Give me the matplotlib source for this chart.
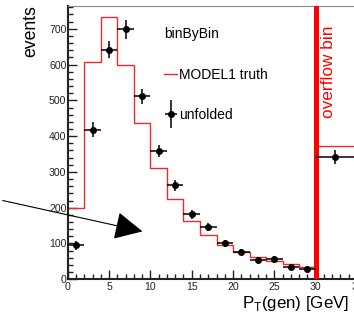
import numpy as np
import matplotlib
matplotlib.use("Agg")
import matplotlib.pyplot as plt
from matplotlib.lines import Line2D
from matplotlib.patches import FancyArrowPatch
from matplotlib.container import ErrorbarContainer
from matplotlib.legend_handler import HandlerErrorbar
from matplotlib.ticker import MultipleLocator

plt.rcParams["font.family"] = ["Liberation Sans", "DejaVu Sans"]
plt.rcParams["mathtext.fontset"] = "custom"
plt.rcParams["mathtext.rm"] = "Liberation Sans"

# -----------------------------
# DATA
# -----------------------------
bin_edges = [0, 2, 4, 6, 8, 10, 12, 14, 16, 18, 20, 22, 24, 26, 28, 30, 35]
truth = [200, 607, 732, 600, 438, 310, 223, 163, 123, 96, 77, 63, 52, 43, 35, 372]

unf_x = [1, 3, 5, 7, 9, 11, 13, 15, 17, 19, 21, 23, 25, 27, 29, 32.3]
unf_y = [95, 418, 642, 698, 511, 358, 263, 182, 147, 101, 76, 55, 56, 35, 28, 342]
unf_xlo = [1] * 15 + [2.3]
unf_xhi = [1] * 15 + [2.7]
unf_yerr = [12, 21, 25, 26, 21, 17, 15, 13, 11, 10, 9, 8, 8, 7, 6, 20]

overflow_at = 30

# -----------------------------
# PLOT
# -----------------------------
fig = plt.figure(figsize=(3.54, 3.24), dpi=100)
ax = fig.add_axes([0.1915, 0.138, 0.817, 0.845])

ax.stairs(truth, bin_edges, baseline=None, color="#ee2a2a", lw=1.0, zorder=2)
ax.axvline(overflow_at, color="#ff0000", lw=3.6, zorder=3)
eb = ax.errorbar(unf_x, unf_y, xerr=[unf_xlo, unf_xhi], yerr=unf_yerr,
                 fmt="o", color="black", ms=4, lw=1.1, capsize=0, zorder=4)

ax.text(31.5, 580, "overflow bin", rotation=90, color="#ff0000",
        fontsize=12.4, ha="center", va="center")

ax.set_xlim(0, 35)
ax.set_ylim(0, 765)
ax.xaxis.set_major_locator(MultipleLocator(5))
ax.xaxis.set_minor_locator(MultipleLocator(1))
ax.yaxis.set_major_locator(MultipleLocator(100))
ax.yaxis.set_minor_locator(MultipleLocator(20))
ax.tick_params(which="both", direction="in", colors="#222222", labelsize=7.6)
ax.tick_params(which="major", length=6.5, width=1.0)
ax.tick_params(which="minor", length=3.5, width=1.0)
ax.tick_params(axis="y", pad=1)
ax.tick_params(axis="x", pad=2)

for side in ["left", "bottom"]:
    ax.spines[side].set_linewidth(1.5)
    ax.spines[side].set_color("#222222")
ax.spines["top"].set_linewidth(0.8)
ax.spines["top"].set_color("#888888")
ax.spines["right"].set_visible(False)

ax.set_ylabel("events", fontsize=12.7, loc="top")
ax.yaxis.set_label_coords(-0.098, 1.0)
ax.set_xlabel(r"P$_{\mathrm{T}}$(gen) [GeV]", fontsize=12.2, loc="right")
ax.xaxis.set_label_coords(0.972, -0.055)

handles = [Line2D([], [], color="#ee2a2a", lw=1.0), eb]
leg = ax.legend(handles, ["MODEL1 truth", "unfolded"], title="binByBin",
                loc="upper left", bbox_to_anchor=(0.3, 0.956), frameon=False,
                fontsize=10, title_fontsize=10, alignment="left",
                handlelength=0.95, handletextpad=0.1, labelspacing=1.9,
                borderpad=0.2,
                handler_map={ErrorbarContainer: HandlerErrorbar(xerr_size=0.45, yerr_size=1.0)})

# arrow pointing into the plot
arrow = FancyArrowPatch((0.0, 0.383), (0.41, 0.284), transform=fig.transFigure,
                        arrowstyle="-|>,head_length=0.8,head_width=0.4",
                        mutation_scale=22, color="black", lw=0.8, clip_on=False)
fig.add_artist(arrow)

fig.savefig("out.png", dpi=100)
